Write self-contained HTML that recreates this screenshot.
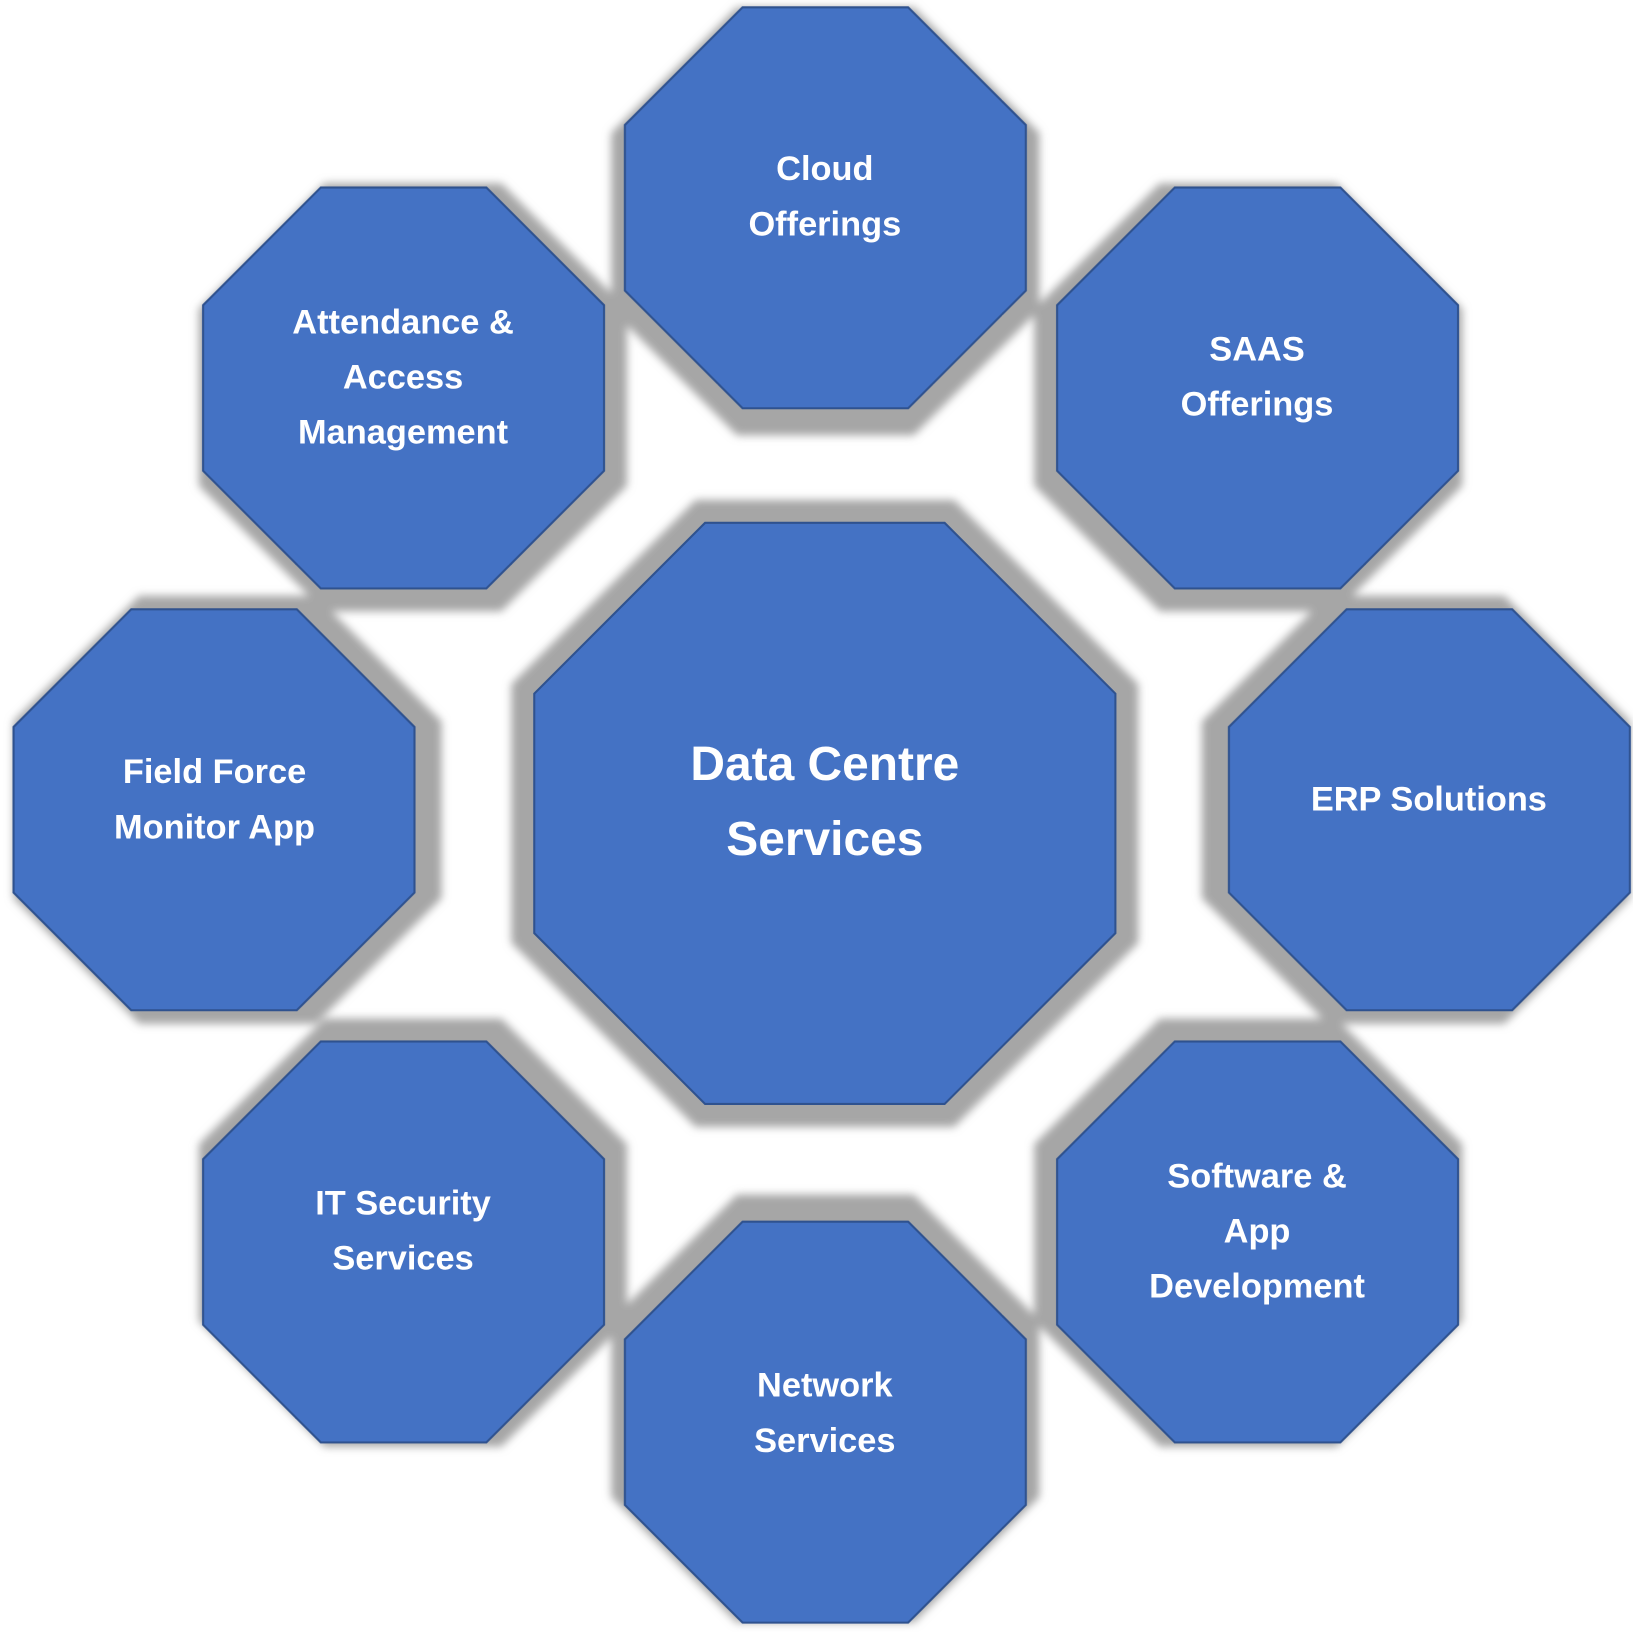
<!DOCTYPE html>
<html><head><meta charset="utf-8"><style>
html,body{margin:0;padding:0;background:#fff;}
svg{display:block;}
text{font-family:"Liberation Sans",sans-serif;font-weight:bold;fill:#fff;text-anchor:middle;}
</style></head><body>
<svg width="1633" height="1632" viewBox="0 0 1568 1567" xmlns="http://www.w3.org/2000/svg">
<defs>
<filter id="b" x="-20%" y="-20%" width="140%" height="140%"><feGaussianBlur stdDeviation="4"/></filter>
</defs>
<g fill="#a6a6a6" stroke="#a6a6a6" stroke-width="26" stroke-linejoin="miter" filter="url(#b)">
<polygon transform="translate(600,20)" points="113,0 272,0 385,113 385,272 272,385 113,385 0,272 0,113"/>
<polygon transform="translate(204,189)" points="113,0 272,0 385,113 385,272 272,385 113,385 0,272 0,113"/>
<polygon transform="translate(1006,189)" points="113,0 272,0 385,113 385,272 272,385 113,385 0,272 0,113"/>
<polygon transform="translate(26,585)" points="113,0 272,0 385,113 385,272 272,385 113,385 0,272 0,113"/>
<polygon transform="translate(1167,585)" points="113,0 272,0 385,113 385,272 272,385 113,385 0,272 0,113"/>
<polygon transform="translate(204,991)" points="113,0 272,0 385,113 385,272 272,385 113,385 0,272 0,113"/>
<polygon transform="translate(1006,991)" points="113,0 272,0 385,113 385,272 272,385 113,385 0,272 0,113"/>
<polygon transform="translate(600,1160)" points="113,0 272,0 385,113 385,272 272,385 113,385 0,272 0,113"/>
<polygon transform="translate(513,502)" stroke-width="44" points="164,0 394,0 558,164 558,394 394,558 164,558 0,394 0,164"/>
</g>
<g fill="#4472c4" stroke="#2f528f" stroke-width="2">
<polygon transform="translate(600,7)" points="113,0 272,0 385,113 385,272 272,385 113,385 0,272 0,113"/>
<polygon transform="translate(195,180)" points="113,0 272,0 385,113 385,272 272,385 113,385 0,272 0,113"/>
<polygon transform="translate(1015,180)" points="113,0 272,0 385,113 385,272 272,385 113,385 0,272 0,113"/>
<polygon transform="translate(13,585)" points="113,0 272,0 385,113 385,272 272,385 113,385 0,272 0,113"/>
<polygon transform="translate(1180,585)" points="113,0 272,0 385,113 385,272 272,385 113,385 0,272 0,113"/>
<polygon transform="translate(195,1000)" points="113,0 272,0 385,113 385,272 272,385 113,385 0,272 0,113"/>
<polygon transform="translate(1015,1000)" points="113,0 272,0 385,113 385,272 272,385 113,385 0,272 0,113"/>
<polygon transform="translate(600,1173)" points="113,0 272,0 385,113 385,272 272,385 113,385 0,272 0,113"/>
<polygon transform="translate(513,502)" points="164,0 394,0 558,164 558,394 394,558 164,558 0,394 0,164"/>
</g>
<g font-size="33">
<text x="792" y="173">Cloud</text><text x="792" y="226">Offerings</text>
<text x="387" y="320">Attendance &amp;</text><text x="387" y="373">Access</text><text x="387" y="426">Management</text>
<text x="1207" y="346">SAAS</text><text x="1207" y="399">Offerings</text>
<text x="206" y="752">Field Force</text><text x="206" y="805">Monitor App</text>
<text x="1372" y="778">ERP Solutions</text>
<text x="387" y="1166">IT Security</text><text x="387" y="1219">Services</text>
<text x="1207" y="1140">Software &amp;</text><text x="1207" y="1193">App</text><text x="1207" y="1246">Development</text>
<text x="792" y="1341">Network</text><text x="792" y="1394">Services</text>
</g>
<g font-size="46">
<text x="792" y="749">Data Centre</text><text x="792" y="821">Services</text>
</g>
</svg>
</body></html>
